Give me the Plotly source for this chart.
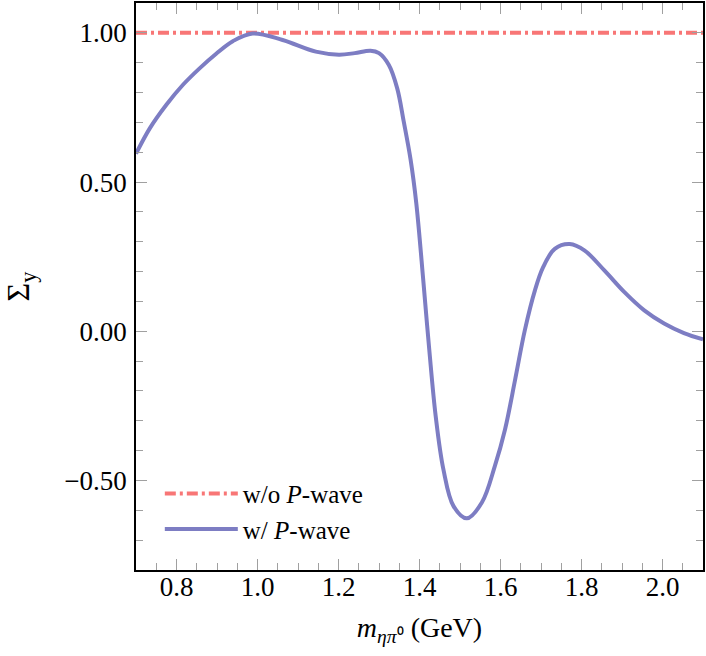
import plotly.graph_objects as go

# curve
mass = [0.700, 0.734, 0.775, 0.816, 0.857, 0.898, 0.939, 0.988, 1.062, 1.144,
        1.201, 1.240, 1.279, 1.300, 1.324, 1.345, 1.361, 1.378, 1.392, 1.410,
        1.424, 1.440, 1.459, 1.484, 1.517, 1.554, 1.586, 1.611, 1.636, 1.660,
        1.685, 1.705, 1.734, 1.771, 1.808, 1.857, 1.906, 1.955, 2.004, 2.053,
        2.100]
sigma_p = [0.595, 0.680, 0.759, 0.826, 0.881, 0.930, 0.972, 0.998, 0.976, 0.937,
           0.927, 0.932, 0.940, 0.932, 0.893, 0.814, 0.703, 0.575, 0.430, 0.160,
           -0.060, -0.285, -0.463, -0.586, -0.627, -0.574, -0.452, -0.330, -0.163, 0.003,
           0.137, 0.214, 0.276, 0.292, 0.270, 0.203, 0.131, 0.070, 0.026, -0.006,
           -0.027]
mass_flat = [0.7, 2.1]
sigma_flat = [1.0, 1.0]

RED = "rgb(248,118,118)"
BLUE = "rgb(125,125,195)"
FONT = "Liberation Serif"

fig = go.Figure()
fig.add_trace(go.Scatter(x=mass_flat, y=sigma_flat, mode="lines",
                         name="w/o <i>P</i>-wave",
                         line=dict(color=RED, width=4, dash="11px,4px,3px,4px")))
fig.add_trace(go.Scatter(x=mass, y=sigma_p, mode="lines",
                         name="w/ <i>P</i>-wave",
                         line=dict(color=BLUE, width=4, shape="spline", smoothing=1.0)))

axis_common = dict(showline=True, linecolor="black", linewidth=1.5, mirror="ticks",
                   ticks="inside", tickcolor="#a0a0a0", ticklen=11, tickwidth=1,
                   showgrid=False, zeroline=False,
                   tickfont=dict(family=FONT, size=27, color="black"))

fig.update_xaxes(range=[0.7, 2.1], dtick=0.2, tick0=0.8, tickformat=".1f",
                 minor=dict(dtick=0.05, ticks="inside", ticklen=7, tickcolor="#a0a0a0",
                            showgrid=False),
                 ticklabelstandoff=-8,
                 title=dict(text="<i>m</i><sub><i>ηπ</i>⁰</sub> (GeV)",
                            font=dict(family=FONT, size=28, color="black"), standoff=16),
                 **axis_common)
fig.update_yaxes(range=[-0.8, 1.1], dtick=0.5, tick0=0, tickformat=".2f",
                 minor=dict(dtick=0.1, ticks="inside", ticklen=7, tickcolor="#a0a0a0",
                            showgrid=False),
                 ticklabelstandoff=2,
                 title=dict(text="Σ<sub>y</sub>",
                            font=dict(family=FONT, size=32, color="black"), standoff=30),
                 **axis_common)

fig.update_layout(width=706, height=656, margin=dict(l=136, r=1, t=1, b=86),
                  plot_bgcolor="white", paper_bgcolor="white",
                  font=dict(family=FONT, size=25, color="black"),
                  legend=dict(x=0.042, y=0.175, xanchor="left", yanchor="top",
                              itemwidth=73,
                              bgcolor="rgba(0,0,0,0)", font=dict(family=FONT, size=25),
                              tracegroupgap=0))

# the page body has a default margin; drop it so the figure sits at the corner
fig.write_html("out.html", config={"responsive": False, "displayModeBar": False},
               post_script="document.body.style.margin='0';"
                           "document.body.style.overflow='hidden';")
